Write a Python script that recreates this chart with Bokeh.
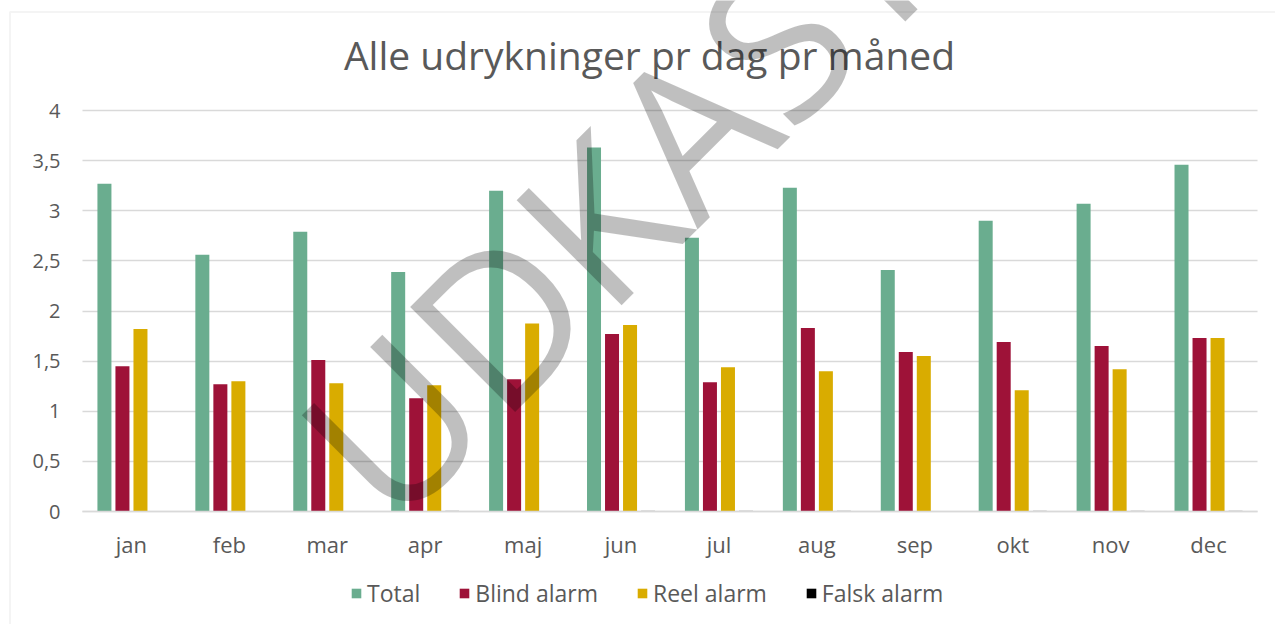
import math
from bokeh.plotting import figure
from bokeh.models import (ColumnDataSource, Range1d, FixedTicker, Legend, LegendItem, Label,
                          BoxAnnotation)
from bokeh.embed import file_html
from bokeh.resources import INLINE

# ---- data ----
months = ["jan", "feb", "mar", "apr", "maj", "jun", "jul", "aug", "sep", "okt", "nov", "dec"]
total = [3.27, 2.56, 2.79, 2.39, 3.20, 3.63, 2.73, 3.23, 2.41, 2.90, 3.07, 3.46]
blind = [1.45, 1.27, 1.51, 1.13, 1.32, 1.77, 1.29, 1.83, 1.59, 1.69, 1.65, 1.73]
reel = [1.82, 1.30, 1.28, 1.26, 1.875, 1.86, 1.44, 1.40, 1.55, 1.21, 1.42, 1.73]
falsk = [0, 0, 0, 0.006, 0, 0.006, 0.006, 0.006, 0, 0.006, 0.006, 0.006]
series_names = ["Total", "Blind alarm", "Reel alarm", "Falsk alarm"]
y_ticks = [0, 0.5, 1, 1.5, 2, 2.5, 3, 3.5, 4]
y_tick_labels = ["0", "0,5", "1", "1,5", "2", "2,5", "3", "3,5", "4"]
title_text = "Alle udrykninger pr dag pr måned"
watermark_text = "UDKAST"

colors = ["#6AAD8F", "#9E1238", "#D9AC00", "#000000"]
FONT = "Open Sans"
TXT = "#595959"
GRID = "#D9D9D9"

n = len(months)
xc = [i + 0.5 for i in range(n)]
src = ColumnDataSource(dict(x=xc, total=total, blind=blind, reel=reel, falsk=falsk))

# layout: the frame covers the whole canvas; axes are pinned inside it
W, H = 1275, 624
PLOT_L, PLOT_R, PLOT_T, PLOT_B = 82, 1257, 110, 511   # canvas px of the plot area
ppx = (PLOT_R - PLOT_L) / n
ppy = (PLOT_B - PLOT_T) / 4.0
x_range = Range1d(-PLOT_L / ppx, n + (W - PLOT_R) / ppx)
y_range = Range1d(-(H - PLOT_B) / ppy, 4 + PLOT_T / ppy)

p = figure(x_range=x_range, y_range=y_range, width=W, height=H,
           output_backend="svg", toolbar_location=None,
           min_border=0, min_border_left=0, min_border_right=0,
           min_border_top=0, min_border_bottom=0)
p.outline_line_color = None
p.background_fill_color = "white"
p.border_fill_color = "white"
p.xgrid.visible = False
p.ygrid.visible = False

bw = 0.143
offs = [-0.276, -0.092, 0.092, 0.276]
keys = ["total", "blind", "reel", "falsk"]
rends = []
for k, o, c in zip(keys, offs, colors):
    r = p.vbar(x=[v + o for v in xc], top=src.data[k], width=bw,
               fill_color=c, line_color=None)
    rends.append(r)

# y axis pinned at x=0, its inward ticks act as the horizontal grid lines
ya = p.yaxis[0]
ya.fixed_location = 0
ya.level = "underlay"
ya.ticker = FixedTicker(ticks=y_ticks)
ya.major_label_overrides = {t: l for t, l in zip(y_ticks, y_tick_labels)}
ya.axis_line_color = None
ya.major_tick_in = int(round(PLOT_R - PLOT_L))
ya.major_tick_out = 0
ya.major_tick_line_color = GRID
ya.major_tick_line_width = 1.3
ya.minor_tick_line_color = None
ya.major_label_standoff = 22
ya.major_label_text_font_size = "20px"

xa = p.xaxis[0]
xa.fixed_location = 0
xa.bounds = (0, n)
xa.ticker = FixedTicker(ticks=xc)
xa.major_label_overrides = {v: m for v, m in zip(xc, months)}
xa.axis_line_color = GRID
xa.axis_line_width = 1.3
xa.major_tick_line_color = None
xa.minor_tick_line_color = None
xa.major_label_standoff = 11
xa.major_label_text_font_size = "22px"

for ax in (xa, ya):
    ax.major_label_text_font = FONT
    ax.major_label_text_color = TXT

# legend
legend = Legend(items=[LegendItem(label=s, renderers=[r]) for s, r in zip(series_names, rends)],
                orientation="horizontal", location=(350, H - 595 - 14),
                label_text_font=FONT, label_text_font_size="23px", label_text_color=TXT,
                glyph_width=12, glyph_height=12, spacing=38, label_standoff=5,
                border_line_color=None, background_fill_alpha=0, padding=0, margin=0)
p.add_layout(legend, "center")

# outer chart border (left and top edges visible)
p.add_layout(BoxAnnotation(left=9.5, right=W + 40, top=H - 11.5, bottom=-40,
                           left_units="screen", right_units="screen",
                           top_units="screen", bottom_units="screen",
                           fill_alpha=0, line_color=GRID, line_width=2))

# title
p.add_layout(Label(x=649, y=H - 54, x_units="screen", y_units="screen", text=title_text,
                   text_font=FONT, text_font_size="39px", text_color=TXT,
                   text_align="center", text_baseline="alphabetic"))

# watermark
p.add_layout(Label(x=336, y=H - 476, x_units="screen", y_units="screen", text=watermark_text,
                   angle=math.pi / 4, text_font=FONT, text_font_size="208px",
                   text_color="black", text_alpha=0.25,
                   text_align="left", text_baseline="alphabetic"))

open("out.html", "w").write(file_html(p, INLINE))
